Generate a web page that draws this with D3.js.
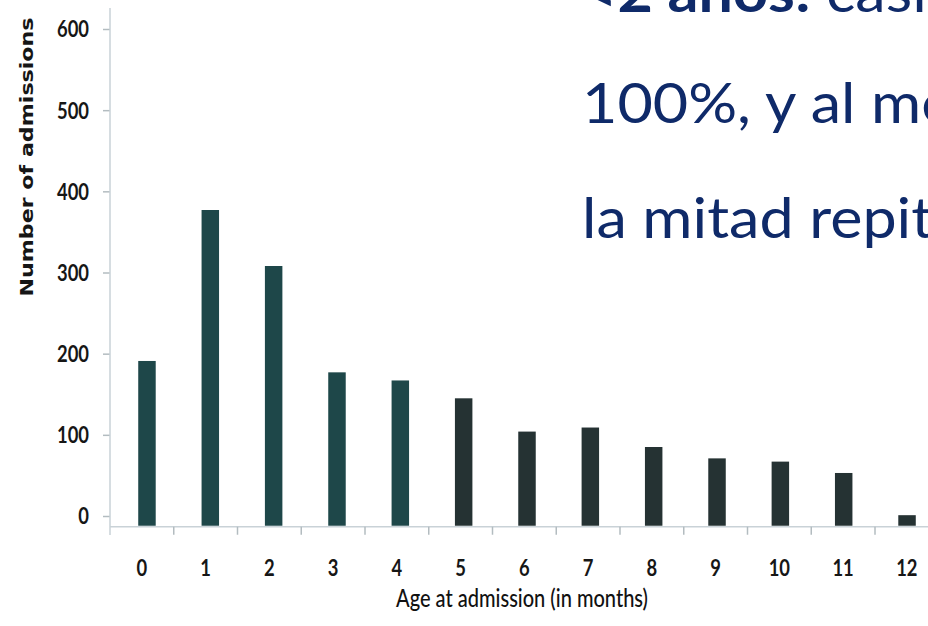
<!DOCTYPE html>
<html>
<head>
<meta charset="utf-8">
<script src="https://cdn.jsdelivr.net/npm/d3@7"></script>
<style>
  html, body { margin: 0; padding: 0; background: #ffffff; }
  svg { display: block; }
</style>
</head>
<body>
<svg id="chart" width="928" height="626"></svg>
<script>
// Admissions by age in months
const months = ["0", "1", "2", "3", "4", "5", "6", "7", "8", "9", "10", "11", "12"];
const admissions = [191, 377, 308, 177, 167, 145, 104, 109, 85, 71, 67, 53, 1];
const yTicks = [0, 100, 200, 300, 400, 500, 600];
const yTitle = "Number of admissions";
const xTitle = "Age at admission (in months)";

// Slide note beside the chart
const noteLines = [
  [{ text: "<2 años:", bold: true }, { text: " casi", bold: false }],
  [{ text: "100%, y al menos", bold: false }],
  [{ text: "la mitad repite", bold: false }]
];

const svg = d3.select("#chart");
const W = 928, H = 626;

// Scales
const yMin = -12;           // bottom of the plotting area, where the bars start
const y = d3.scaleLinear().domain([0, 600]).range([516, 29]);
const axisX = d3.scaleBand().domain(months).range([110, 938.75]);
const barX = d3.scaleBand().domain(months).range([115.3, 938.7])
  .paddingInner(0.724).paddingOuter(0.362);

const axisColor = "#c9d2d7";
const tickColor = "#b3bcc0";
const textColor = "#161616";

// Bars
svg.append("g")
  .selectAll("rect")
  .data(admissions)
  .join("rect")
  .attr("x", (d, i) => barX(months[i]))
  .attr("width", barX.bandwidth())
  .attr("y", d => y(d))
  .attr("height", d => y(yMin) - y(d))
  .attr("fill", (d, i) => i < 5 ? "#1e4749" : "#253233");

// Y axis
const yAxis = svg.append("g")
  .attr("transform", "translate(110,0)")
  .call(d3.axisLeft(y).tickValues(yTicks).tickSize(7).tickPadding(0));
yAxis.select(".domain").remove();
yAxis.selectAll(".tick line").attr("stroke", tickColor).attr("stroke-width", 1.5);
yAxis.selectAll(".tick text")
  .attr("x", 0)
  .attr("dy", "0.34em")
  .attr("transform", "translate(-21,0) scale(0.8,1)")
  .attr("text-anchor", "end")
  .style("font-family", "Lato, 'Open Sans', sans-serif")
  .style("font-weight", 700)
  .style("font-size", "23px")
  .attr("fill", textColor);
svg.append("line")
  .attr("x1", 110).attr("x2", 110)
  .attr("y1", 8).attr("y2", 535)
  .attr("stroke", axisColor).attr("stroke-width", 1.5);

// X axis: labels centred in each band, ticks on band edges
const xAxisY = y(yMin) + 1;
svg.append("line")
  .attr("x1", 110).attr("x2", W)
  .attr("y1", xAxisY).attr("y2", xAxisY)
  .attr("stroke", axisColor).attr("stroke-width", 1.5);

const xAxis = svg.append("g")
  .attr("transform", `translate(0,${xAxisY})`)
  .call(d3.axisBottom(axisX).tickSize(0).tickPadding(0));
xAxis.select(".domain").remove();
xAxis.selectAll(".tick text")
  .attr("y", 49)
  .attr("dy", 0)
  .attr("transform", "scale(0.8,1)")
  .style("font-family", "Lato, 'Open Sans', sans-serif")
  .style("font-weight", 700)
  .style("font-size", "23px")
  .attr("fill", textColor);

svg.append("g")
  .selectAll("line")
  .data(months.slice(1))
  .join("line")
  .attr("x1", d => axisX(d)).attr("x2", d => axisX(d))
  .attr("y1", xAxisY).attr("y2", xAxisY + 8)
  .attr("stroke", tickColor).attr("stroke-width", 1.5);

// Axis titles
svg.append("text")
  .attr("transform", "translate(33,157) rotate(-90)")
  .attr("text-anchor", "middle")
  .attr("textLength", 279)
  .attr("lengthAdjust", "spacingAndGlyphs")
  .style("font-family", "'DejaVu Sans', sans-serif")
  .style("font-weight", 700)
  .style("font-size", "17.5px")
  .attr("fill", textColor)
  .text(yTitle);

svg.append("text")
  .attr("x", 522).attr("y", 607)
  .attr("text-anchor", "middle")
  .attr("textLength", 252)
  .attr("lengthAdjust", "spacingAndGlyphs")
  .style("font-family", "Lato, 'Open Sans', sans-serif")
  .style("font-size", "24px")
  .style("font-weight", 500)
  .attr("fill", "#111111")
  .text(xTitle);

// Note text
const baselines = [12, 123, 238];
const note = svg.append("g")
  .style("font-family", "Lato, 'Open Sans', sans-serif")
  .style("font-size", "56px")
  .attr("fill", "#0f2a69");
noteLines.forEach((parts, i) => {
  const t = note.append("text")
    .attr("transform", `translate(582,${baselines[i]}) scale(1.09,1)`);
  parts.forEach(p => {
    t.append("tspan")
      .style("font-weight", p.bold ? 700 : 400)
      .text(p.text);
  });
});
</script>
</body>
</html>
